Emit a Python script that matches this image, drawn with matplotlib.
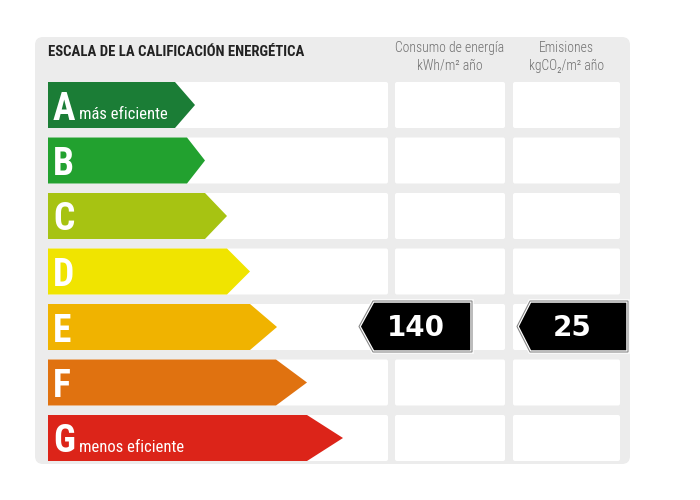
import matplotlib
matplotlib.use("Agg")
import matplotlib.pyplot as plt
from matplotlib.patches import Polygon, FancyBboxPatch

# rating scale data
letters = ["A", "B", "C", "D", "E", "F", "G"]
captions = ["más eficiente", "", "", "", "", "", "menos eficiente"]
colors = ["#1b7d36", "#22a12f", "#a7c312", "#f0e400", "#f0b300", "#e07210", "#dc2419"]
# arrow length (body end, tip) per rating, in px of the 700 px canvas
arrow_body = [175, 187, 205, 227, 250, 276, 307]
arrow_tip = [195, 205, 227, 250, 277, 307, 343]

title = "ESCALA DE LA CALIFICACIÓN ENERGÉTICA"
col_heads = [("Consumo de energía", "kWh/m² año"), ("Emisiones", "kgCO₂/m² año")]

# the result of the certificate
result_letter = "E"
result_values = [140, 25]

narrow = ["Roboto Condensed", "DejaVu Sans"]

fig = plt.figure(figsize=(7, 5), dpi=100)
ax = fig.add_axes([0, 0, 1, 1])
ax.set_xlim(0, 700)
ax.set_ylim(500, 0)
ax.axis("off")

# gray panel
ax.add_patch(FancyBboxPatch((35, 37), 595, 427, boxstyle="round,pad=0,rounding_size=8",
                            fc="#ececec", ec="none"))

ax.text(48, 52, title, fontsize=10.6, fontweight="bold", family=narrow,
        color="#222222", va="center", ha="left")

col_x = [(395, 505), (513, 620)]
for (x0, x1), (l1, l2) in zip(col_x, col_heads):
    xc = (x0 + x1) / 2
    ax.text(xc, 48, l1, fontsize=9.8, fontweight="light", family=narrow, color="#6e6e6e",
            ha="center", va="center")
    ax.text(xc, 66, l2, fontsize=9.8, fontweight="light", family=narrow, color="#6e6e6e",
            ha="center", va="center")

row_top0 = 82
pitch = 55.5
row_h = 46

for i, (let, cap, col, xb, xt) in enumerate(zip(letters, captions, colors, arrow_body, arrow_tip)):
    y0 = row_top0 + i * pitch
    y1 = y0 + row_h
    ym = (y0 + y1) / 2
    # white row boxes
    ax.add_patch(FancyBboxPatch((48, y0), 340, row_h, boxstyle="round,pad=0,rounding_size=2",
                                fc="white", ec="none"))
    for x0, x1 in col_x:
        ax.add_patch(FancyBboxPatch((x0, y0), x1 - x0, row_h, boxstyle="round,pad=0,rounding_size=2",
                                    fc="white", ec="none"))
    # coloured arrow
    ax.add_patch(Polygon([(48, y0), (xb, y0), (xt, ym), (xb, y1), (48, y1)],
                         closed=True, fc=col, ec="none"))
    ax.text(53, y0 + 37.5, let, fontsize=27, fontweight="bold", family=narrow,
            color="white", ha="left", va="baseline")
    if cap:
        ax.text(79, y0 + 37, cap, fontsize=12, family=narrow, color="white",
                ha="left", va="baseline")

# black result labels
ri = letters.index(result_letter)
y0 = row_top0 + ri * pitch - 3
y1 = y0 + row_h + 5
ym = (y0 + y1) / 2
label_x = [(359, 373, 472), (517, 530, 628)]
for (xt, xb, xr), val in zip(label_x, result_values):
    ax.add_patch(Polygon([(xt, ym), (xb, y0), (xr, y0), (xr, y1), (xb, y1)], closed=True,
                         fc="black", ec="white", lw=2.5))
    ax.add_patch(Polygon([(xt, ym), (xb, y0), (xr, y0), (xr, y1), (xb, y1)], closed=True,
                         fc="none", ec="#888888", lw=0.8))
    ax.text((xb + xr) / 2 - 7, ym + 1, str(val), fontsize=20, fontweight="bold",
            color="white", ha="center", va="center")

fig.savefig("out.png", dpi=100, facecolor="white")
